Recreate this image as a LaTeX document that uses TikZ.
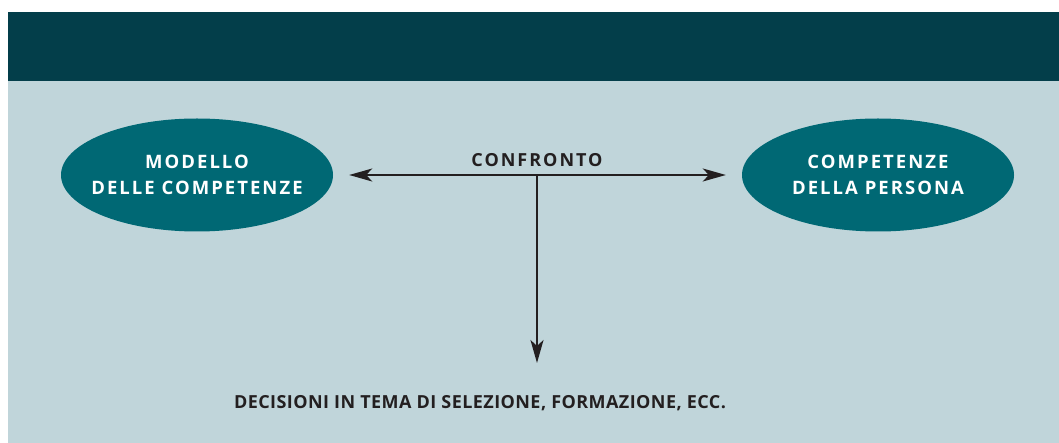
\documentclass[tikz,border=0pt]{standalone}
\usepackage{fontspec}
\newfontfamily\lblfont{Open Sans}[LetterSpace=11]
\newfontfamily\decfont{Open Sans}[LetterSpace=2.4]
\usepackage{tikz}
\usetikzlibrary{shapes.geometric,arrows.meta,positioning}
\definecolor{bandblue}{RGB}{3,62,74}
\definecolor{panelblue}{RGB}{192,213,218}
\definecolor{ovalteal}{RGB}{0,104,116}
\definecolor{inkdark}{RGB}{35,31,32}

\begin{document}
\begin{tikzpicture}[x=1pt,y=-1pt,
    oval/.style={ellipse,fill=ovalteal,text=white,minimum width=272pt,minimum height=113pt,
      align=center,font=\lblfont\bfseries\fontsize{18.5}{26}\selectfont,
      inner xsep=-30pt,inner ysep=0pt},
    lbl/.style={text=inkdark,font=\lblfont\bfseries\fontsize{18}{26}\selectfont,inner sep=0pt},
    link/.style={draw=inkdark,line width=2pt},
    tip/.style={-{Stealth[length=23pt,width=13pt,inset=6pt]}}]
  \useasboundingbox (0,0) rectangle (1059,443);
  \fill[panelblue] (8,12) rectangle (1059,443);
  \fill[bandblue] (8,12) rectangle (1059,81);

  % the two ovals
  \node[oval] (modello) at (197,175) {MODELLO\\DELLE COMPETENZE};
  \node[oval] (persona) at (878,175) {COMPETENZE\\DELLA PERSONA};

  % comparison and result
  \coordinate (mid) at (537,175);
  \node[lbl,anchor=base] (confronto) at (537,167) {CONFRONTO};
  \node[lbl,anchor=base,font=\decfont\bfseries\fontsize{18}{26}\selectfont] (decisioni)
    at (480,408) {DECISIONI IN TEMA DI SELEZIONE, FORMAZIONE, ECC.};
  \coordinate (fine) at (537,363);

  \draw[link,tip] (mid) -- ([xshift=16pt]modello.east);
  \draw[link,tip] (mid) -- ([xshift=-16pt]persona.west);
  \draw[link,tip] (mid) -- (fine);
\end{tikzpicture}
\end{document}
